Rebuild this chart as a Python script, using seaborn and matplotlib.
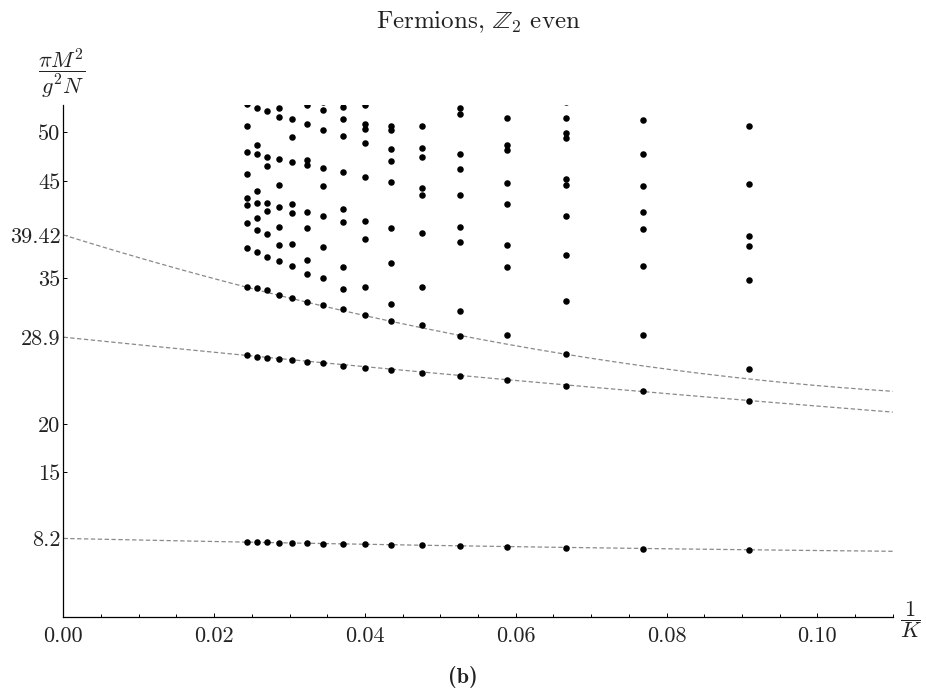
import numpy as np
import pandas as pd
import matplotlib
matplotlib.use('Agg')
import matplotlib.pyplot as plt
import seaborn as sns
from matplotlib.ticker import MultipleLocator, FixedLocator, FixedFormatter

# lattice sizes K, spectrum (pi M^2 / g^2 N)
K_values = [41, 39, 37, 35, 33, 31, 29, 27, 25, 23, 21, 19, 17, 15, 13, 11]
masses = [
    [7.82, 27.05, 34.07, 38.10, 40.64, 42.50, 43.18, 45.66, 47.93, 50.68, 52.85],
    [7.81, 26.91, 34.00, 37.68, 39.95, 41.20, 42.70, 43.94, 47.73, 48.69, 52.50],
    [7.79, 26.81, 33.72, 37.20, 39.53, 41.84, 42.70, 46.56, 47.49, 52.13],
    [7.76, 26.71, 33.28, 36.75, 38.37, 40.23, 42.26, 44.53, 47.24, 51.54, 52.44],
    [7.72, 26.57, 32.93, 36.20, 38.50, 41.70, 42.63, 46.93, 49.54, 51.33],
    [7.69, 26.40, 32.55, 35.44, 36.89, 40.12, 41.81, 46.62, 47.10, 50.82, 52.78],
    [7.65, 26.22, 32.21, 35.03, 38.16, 41.36, 44.49, 46.28, 50.27, 52.24, 53.10],
    [7.62, 25.99, 31.80, 33.90, 36.13, 40.77, 42.08, 45.90, 49.65, 51.37, 52.58],
    [7.58, 25.78, 31.21, 34.11, 39.02, 40.82, 45.42, 48.90, 50.37, 50.86, 52.82],
    [7.55, 25.54, 30.56, 32.35, 36.58, 40.19, 44.90, 47.00, 48.24, 50.20, 50.68],
    [7.48, 25.23, 30.15, 34.07, 39.61, 43.56, 44.28, 47.45, 48.41, 50.68],
    [7.41, 24.88, 29.01, 31.59, 38.71, 40.26, 43.53, 46.18, 47.73, 51.86, 52.50],
    [7.34, 24.47, 29.18, 36.13, 38.44, 42.63, 44.73, 48.20, 48.69, 51.43],
    [7.23, 23.92, 27.19, 32.62, 37.41, 41.39, 44.56, 45.18, 49.41, 49.93, 51.51, 53.10],
    [7.13, 23.33, 29.11, 36.23, 40.09, 41.74, 44.46, 47.73, 51.22],
    [7.00, 22.37, 25.68, 34.76, 38.27, 39.37, 44.70, 50.68],
]

# extrapolation curves, values read at a few 1/K positions
curve_x = [0.0, 0.0244, 0.0526, 0.0909, 0.11]
curve_upper = [39.42, 34.07, 29.05, 24.64, 23.33]
curve_middle = [28.9, 27.05, 24.95, 22.40, 21.20]
curve_lower = [8.2, 7.82, 7.45, 7.02, 6.89]

y_ticks = [8.2, 15, 20, 28.9, 35, 39.42, 45, 50]
y_tick_labels = ['8.2', '15', '20', '28.9', '35', '39.42', '45', '50']
x_ticks = [0.0, 0.02, 0.04, 0.06, 0.08, 0.10]
x_tick_labels = ['0.00', '0.02', '0.04', '0.06', '0.08', '0.10']

df = pd.DataFrame(
    [(1.0 / K, m) for K, ms in zip(K_values, masses) for m in ms],
    columns=['inv_K', 'mass'])

sns.set_style('white')
plt.rcParams['font.family'] = ['cmr10', 'DejaVu Serif']
plt.rcParams['mathtext.fontset'] = 'cm'
plt.rcParams['axes.unicode_minus'] = False
plt.rcParams['axes.formatter.use_mathtext'] = True

fig = plt.figure(figsize=(9.26, 6.97), dpi=100)
ax = fig.add_axes([0.0684, 0.1152, 0.8957, 0.7342])

# dashed fit curves
xs = np.linspace(0, 0.11, 300)
for vals in [curve_upper, curve_middle, curve_lower]:
    coef = np.polyfit(curve_x, vals, 2)
    sns.lineplot(x=xs, y=np.polyval(coef, xs), color='#8a8a8a', lw=0.9,
                 linestyle=(0, (3.5, 2)), ax=ax, zorder=2)

sns.scatterplot(data=df, x='inv_K', y='mass', color='black', s=22,
                linewidth=0, ax=ax, zorder=3, legend=False)

ax.set_xlim(0, 0.11)
ax.set_ylim(0.15, 52.8)
ax.set_xlabel('')
ax.set_ylabel('')

for side in ['top', 'right']:
    ax.spines[side].set_visible(False)
for side in ['left', 'bottom']:
    ax.spines[side].set_color('black')
    ax.spines[side].set_linewidth(0.9)

ax.xaxis.set_major_locator(FixedLocator(x_ticks))
ax.xaxis.set_major_formatter(FixedFormatter(x_tick_labels))
ax.xaxis.set_minor_locator(MultipleLocator(0.005))
ax.yaxis.set_major_locator(FixedLocator(y_ticks))
ax.yaxis.set_major_formatter(FixedFormatter(y_tick_labels))

ax.tick_params(axis='x', which='both', direction='in', bottom=True, color='black',
               width=0.7, labelsize=16, pad=7, labelcolor='#222222')
ax.tick_params(axis='x', which='major', length=3)
ax.tick_params(axis='x', which='minor', length=2)
ax.tick_params(axis='y', which='major', direction='in', left=True, length=3,
               width=0.7, color='black', labelsize=16, pad=2, labelcolor='#222222')

fig.text(0.5167, 0.968, r'Fermions, $\mathbb{Z}_2$ even', ha='center', va='center',
         fontsize=18, color='#222222')
fig.text(0.067, 0.895, r'$\dfrac{\pi M^2}{g^2 N}$', ha='center', va='center',
         fontsize=16, color='#222222')
fig.text(0.9835, 0.1105, r'$\dfrac{1}{K}$', ha='center', va='center',
         fontsize=16, color='#222222')
fig.text(0.5, 0.028, '(b)', ha='center', va='center', fontsize=16,
         family=['cmb10', 'DejaVu Serif'], color='#222222')

fig.savefig('out.png', dpi=100)
